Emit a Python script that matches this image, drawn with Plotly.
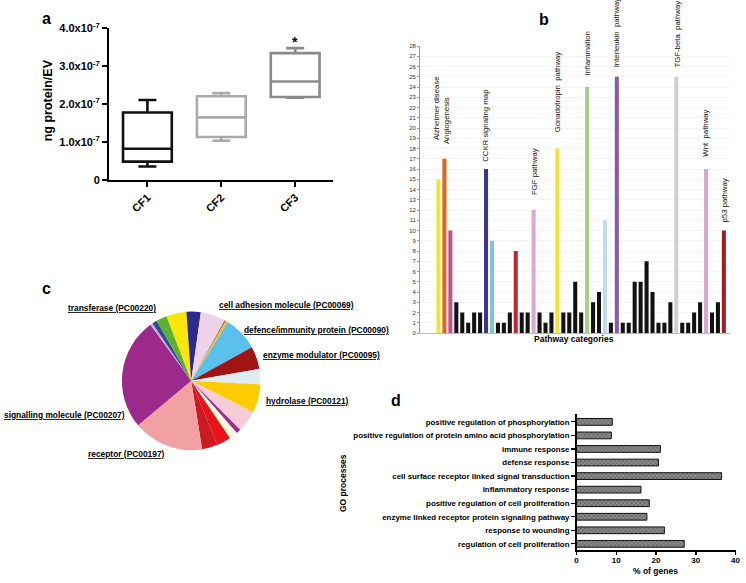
import plotly.graph_objects as go

W, H = 746, 583
def px(x): return x / W
def py(y): return 1 - y / H

FONT = "Liberation Sans, Arial, sans-serif"

# ---------------- Panel a data ----------------
a_cats = ["CF1", "CF2", "CF3"]
a_q1 = [0.48e-7, 1.13e-7, 2.19e-7]
a_med = [0.82e-7, 1.65e-7, 2.60e-7]
a_q3 = [1.78e-7, 2.21e-7, 3.35e-7]
a_low = [0.35e-7, 1.03e-7, 2.17e-7]
a_high = [2.11e-7, 2.29e-7, 3.48e-7]
a_colors = ["#111111", "#aaaaaa", "#8a8a8a"]
a_ticks = [0, 1e-7, 2e-7, 3e-7, 4e-7]
a_ticktext = ["0", "1.0x10<sup>-7</sup>", "2.0x10<sup>-7</sup>", "3.0x10<sup>-7</sup>", "4.0x10<sup>-7</sup>"]

# ---------------- Panel b data ----------------
b_values = [15, 17, 10, 3, 2, 1, 2, 2, 16, 9, 1, 1, 2, 8, 2, 2, 12, 2, 1, 2,
            18, 2, 2, 5, 2, 24, 3, 4, 11, 1, 25, 1, 1, 5, 5, 7, 4, 1, 1, 3,
            25, 1, 1, 2, 3, 16, 2, 3, 10]
b_labels = ["Alzheimer disease", "Angiogenesis", "", "", "", "", "", "", "CCKR signaling map", "", "", "", "", "", "", "",
            "FGF pathway", "", "", "", "Gonadotropin  pathway", "", "", "", "", "Inflammation", "", "", "", "",
            "Interleukin  pathway", "", "", "", "", "", "", "", "", "", "TGF-beta  pathway", "", "", "", "",
            "Wnt  pathway", "", "", "p53 pathway"]
b_label_y = {0: 18.6, 1: 18.2, 8: 16.5, 16: 13.3, 20: 19.4, 25: 24.9, 30: 25.7, 40: 25.7, 45: 17.0, 48: 10.6}
b_label_dx = {0: -0.3, 1: 0.45, 8: -0.1, 16: 0.05, 20: 0.05, 25: 0.05, 30: -0.1, 40: 0.2, 45: -0.1, 48: 0.05}
b_colors_special = {0: "#f2e43c", 1: "#e06420", 2: "#b4549f", 8: "#3b3694", 9: "#80c6ce", 13: "#c4242c",
                    16: "#dcaacd", 20: "#f2e430", 25: "#a9cc8a", 28: "#bcdde9", 30: "#8a5aaa",
                    40: "#d0d0d0", 45: "#d9a9cd", 48: "#a21e1e"}
b_colors = [b_colors_special.get(i, "#111111") for i in range(len(b_values))]
b_x = list(range(len(b_values)))

# ---------------- Panel c data ----------------
c_values = [17, 12, 21, 1, 2, 29, 19, 13, 24, 18, 4, 4, 3, 12, 13, 59, 94, 2, 4, 9]
c_colors = ["#fce50a", "#2e2a8c", "#ecd3ea", "#a0522d", "#f0c020", "#5bc0eb", "#a01414",
            "#deedf4", "#ffcc00", "#f6cdd6", "#9b3090", "#fff8e8", "#ffffc8", "#e8141c",
            "#cc1a1f", "#f1a1a3", "#9c2a8c", "#c8b0c8", "#2c4a9a", "#5cb030"]
c_labels = ["transferase (PC00220)", "cell adhesion molecule (PC00069)",
            "defence/immunity protein (PC00090)", "enzyme modulator (PC00095)",
            "hydrolase (PC00121)", "signalling molecule (PC00207)", "receptor (PC00197)"]
c_label_center = [(111, 307), (287, 304), (317, 330), (323, 356), (308, 403), (63, 417), (126, 457)]

# ---------------- Panel d data ----------------
d_cats = ["positive regulation of phosphorylation",
          "positive regulation of protein amino acid phosphorylation",
          "immune response", "defense response",
          "cell surface receptor linked signal transduction",
          "inflammatory response", "positive regulation of cell proliferation",
          "enzyme linked receptor protein signaling pathway",
          "response to wounding", "regulation of cell proliferation"]
d_vals = [9.0, 8.75, 21.1, 20.6, 36.5, 16.2, 18.3, 17.7, 22.1, 27.1]
d_ticks = [0, 10, 20, 30, 40]

fig = go.Figure()

# Panel a boxes
for i, c in enumerate(a_cats):
    fig.add_trace(go.Box(
        x=[c], q1=[a_q1[i]], median=[a_med[i]], q3=[a_q3[i]],
        lowerfence=[a_low[i]], upperfence=[a_high[i]],
        line=dict(color=a_colors[i], width=2.6), fillcolor="rgba(255,255,255,0)",
        width=0.66, whiskerwidth=0.37, boxpoints=False, showlegend=False,
        xaxis="x", yaxis="y", hoverinfo="skip"))

# Panel b bars
fig.add_trace(go.Bar(x=b_x, y=b_values, marker=dict(color=b_colors, line=dict(width=0)),
                     xaxis="x2", yaxis="y2", showlegend=False, width=0.68, hoverinfo="skip"))

# Panel c pie
fig.add_trace(go.Pie(values=c_values, marker=dict(colors=c_colors, line=dict(width=0)),
                     sort=False, direction="clockwise", rotation=-21, textinfo="none",
                     domain=dict(x=[px(120), px(262)], y=[py(453), py(311)]),
                     showlegend=False, hoverinfo="skip"))

# Panel d bars
fig.add_trace(go.Bar(y=d_cats[::-1], x=d_vals[::-1], orientation="h", width=0.5,
                     marker=dict(color="#777777", line=dict(color="#111111", width=1),
                                 pattern=dict(shape="x", fgcolor="#222222", bgcolor="#8a8a8a",
                                              size=3, solidity=0.35)),
                     xaxis="x3", yaxis="y3", showlegend=False, hoverinfo="skip"))

def pann(text, x, y, size, angle=0, color="black"):
    return dict(text=text, x=px(x), y=py(y), xref="paper", yref="paper",
                xanchor="center", yanchor="middle", textangle=angle, showarrow=False,
                font=dict(size=size, family=FONT, color=color))

ann = []
for t, x, y in [("a", 45, 11), ("b", 547, 12), ("c", 45, 287), ("d", 398, 402)]:
    ann.append(pann("<b>%s</b>" % t, x, y, 16))
ann.append(pann("<b>ng protein/EV</b>", 46, 95, 12.5, angle=-90))
ann.append(dict(text="<b>*</b>", x="CF3", y=3.64e-7, xref="x", yref="y", showarrow=False,
                xanchor="center", yanchor="middle", font=dict(size=14, family=FONT, color="black")))
for i, lab in enumerate(b_labels):
    if lab:
        ann.append(dict(text=lab, x=i + b_label_dx[i], y=b_label_y[i], xref="x2", yref="y2",
                        textangle=-90, showarrow=False, xanchor="center", yanchor="bottom",
                        font=dict(size=7.8, family=FONT, color="#111111")))
ann.append(pann("<b>Pathway categories</b>", 577, 339, 8.5))
for lab, (x, y) in zip(c_labels, c_label_center):
    ann.append(pann("<b><u>%s</u></b>" % lab, x, y, 8.4))
ann.append(pann("<b>% of genes</b>", 660, 577, 8.5))
ann.append(pann("<b>GO processes</b>", 345, 487, 8.5, angle=-90))

fig.update_layout(
    width=W, height=H, margin=dict(l=0, r=0, t=0, b=0),
    paper_bgcolor="white", plot_bgcolor="rgba(0,0,0,0)",
    font=dict(family=FONT, color="black"),
    annotations=ann, bargap=0.3, hovermode=False,
    xaxis=dict(domain=[px(108), px(334)], range=[-0.52, 2.51], type="category",
               showline=True, linecolor="black", linewidth=2, ticks="outside", ticklen=5,
               tickwidth=2, tickcolor="black", tickangle=-45,
               tickfont=dict(size=11, family=FONT, color="black", weight="bold"),
               showgrid=False, zeroline=False, anchor="y"),
    yaxis=dict(domain=[py(176), py(21)], range=[0, 4e-7], tickvals=a_ticks, ticktext=a_ticktext,
               showline=True, linecolor="black", linewidth=2, ticks="outside", ticklen=5,
               tickwidth=2, tickcolor="black",
               tickfont=dict(size=11, family=FONT, color="black", weight="bold"),
               showgrid=False, zeroline=False, anchor="x"),
    xaxis2=dict(domain=[px(422), px(735)], range=[-3.1, 49.05], showticklabels=False,
                showline=True, linecolor="#bbbbbb", linewidth=1, ticks="", showgrid=False,
                zeroline=False, anchor="y2"),
    yaxis2=dict(domain=[py(333), py(39)], range=[0, 28], dtick=1, tick0=0,
                showline=True, linecolor="#999999", linewidth=1, ticks="outside", ticklen=2,
                tickcolor="#999999", tickfont=dict(size=6, family=FONT, color="#333333"),
                showgrid=True, gridcolor="#eeeeee", gridwidth=0.6, zeroline=False, anchor="x2"),
    xaxis3=dict(domain=[px(580), px(740.5)], range=[0, 40.01], tickvals=d_ticks,
                showline=True, linecolor="black", linewidth=1.5, ticks="outside", ticklen=3,
                tickcolor="black", tickwidth=1.5, ticklabeloverflow="allow", ticklabelstandoff=-1,
                tickfont=dict(size=8, family=FONT, color="black", weight="bold"),
                showgrid=False, zeroline=False, anchor="y3"),
    yaxis3=dict(domain=[py(555.7), py(416)], range=[-0.48, 9.58], type="category",
                showline=True, linecolor="black", linewidth=1.5, ticks="outside", ticklen=4,
                tickcolor="black", tickwidth=1.2,
                tickfont=dict(size=7.9, family=FONT, color="black", weight="bold"),
                showgrid=False, zeroline=False, anchor="x3"),
)

fig.write_html("out.html", config={"displayModeBar": False, "staticPlot": True},
               post_script="document.body.style.margin='0';document.body.style.overflow='hidden';")
